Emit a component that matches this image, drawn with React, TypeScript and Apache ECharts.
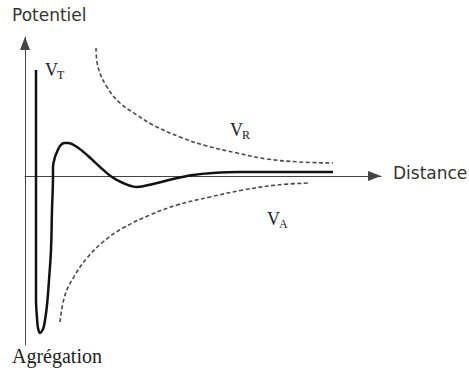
import React, { useEffect, useRef } from "react";
import * as echarts from "echarts";

// Total potential V_T (distance, potential)
const vtDistance = [11, 11, 12, 13, 15, 17, 19, 22, 24, 26, 27, 28, 28, 30, 32, 35, 39, 43, 52, 62, 75, 87, 98, 112, 128, 148, 168, 188, 215, 308];
const vtPotential = [106, -124, -142, -152, -157, -155, -150, -129, -104, -74, -34, 0, 9, 19, 24, 30, 33, 33, 29, 21, 9, -1, -7, -11, -8, -3, 1, 3, 4, 4];

// Repulsive potential V_R
const vrDistance = [71, 73, 82, 95, 112, 128, 155, 182, 212, 242, 275, 308];
const vrPotential = [128, 109, 89, 73, 61, 51, 39, 30, 23, 17, 14, 13];

// Attractive potential V_A
const vaDistance = [35, 40, 50, 62, 78, 98, 125, 152, 185, 218, 252, 285];
const vaPotential = [-146, -119, -99, -82, -66, -52, -39, -29, -21, -14, -9, -7];

const xAxisName = "Distance";
const yAxisName = "Potentiel";
const bottomLabel = "Agrégation";

const zip = (xs: number[], ys: number[]) => xs.map((x, i) => [x, ys[i]]);

export default function App() {
  const ref = useRef<HTMLDivElement>(null);
  useEffect(() => {
    if (!ref.current) return;
    const chart = echarts.init(ref.current, null, { renderer: "svg" });
    const axisColor = "#444";
    const serif = "'Liberation Serif', 'DejaVu Serif', serif";
    const sans = "'DejaVu Sans', sans-serif";
    const labelV = (x: number, y: number, sub: string) => [
      {
        type: "text",
        x,
        y,
        style: { text: "V", font: `18px ${serif}`, fill: "#222", verticalAlign: "bottom", align: "left" },
      },
      {
        type: "text",
        x: x + 12,
        y: y + 2,
        style: { text: sub, font: `12px ${serif}`, fill: "#222", verticalAlign: "bottom", align: "left" },
      },
    ];
    const axisLine = {
      show: true,
      symbol: ["none", "triangle"],
      symbolSize: [10, 13],
      symbolOffset: [0, -6.5],
      lineStyle: { color: axisColor, width: 1 },
    };
    chart.setOption({
      animation: false,
      backgroundColor: "#fff",
      grid: { left: 25, right: 88, top: 37, bottom: 26, containLabel: false },
      xAxis: {
        type: "value",
        min: 0,
        max: 356,
        axisLine: { ...axisLine, onZero: true },
        axisTick: { show: false },
        axisLabel: { show: false },
        splitLine: { show: false },
      },
      yAxis: {
        type: "value",
        min: -169,
        max: 139,
        axisLine: { ...axisLine, onZero: false },
        axisTick: { show: false },
        axisLabel: { show: false },
        splitLine: { show: false },
      },
      series: [
        {
          name: "VT",
          type: "line",
          data: zip(vtDistance, vtPotential),
          showSymbol: false,
          smooth: 0.35,
          lineStyle: { color: "#111", width: 2.5 },
        },
        {
          name: "VR",
          type: "line",
          data: zip(vrDistance, vrPotential),
          showSymbol: false,
          smooth: 0.4,
          lineStyle: { color: "#4a4a4a", width: 1.6, type: [4, 2.5] },
        },
        {
          name: "VA",
          type: "line",
          data: zip(vaDistance, vaPotential),
          showSymbol: false,
          smooth: 0.4,
          lineStyle: { color: "#4a4a4a", width: 1.6, type: [4, 2.5] },
        },
      ],
      graphic: [
        {
          type: "text",
          x: 12,
          y: 15,
          style: { text: yAxisName, font: `17px ${sans}`, fill: "#333", verticalAlign: "middle" },
        },
        {
          type: "text",
          x: 393,
          y: 173,
          style: { text: xAxisName, font: `17px ${sans}`, fill: "#333", verticalAlign: "middle" },
        },
        {
          type: "text",
          x: 12,
          y: 356,
          style: { text: bottomLabel, font: `20px ${serif}`, fill: "#222", verticalAlign: "middle" },
        },
        ...labelV(45, 79, "T"),
        ...labelV(230, 139, "R"),
        ...labelV(267, 228, "A"),
      ],
    });
    return () => chart.dispose();
  }, []);
  return (
    <div
      ref={ref}
      style={{ position: "absolute", left: 0, top: 0, width: 469, height: 371 }}
    />
  );
}
